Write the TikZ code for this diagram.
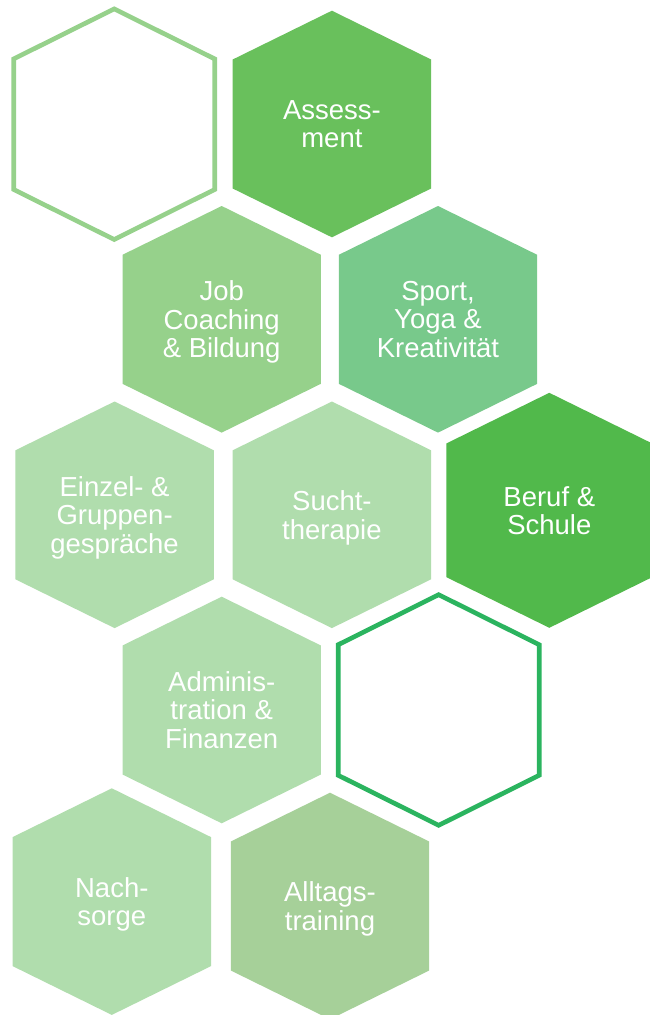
\documentclass[tikz,border=0pt]{standalone}
\usepackage{fontspec}
\setmainfont{Liberation Sans}
\definecolor{cLight}{HTML}{96D18B}
\definecolor{cAssess}{HTML}{69C05C}
\definecolor{cSport}{HTML}{78C98B}
\definecolor{cPale}{HTML}{B0DDAD}
\definecolor{cBeruf}{HTML}{51B94B}
\definecolor{cRing}{HTML}{2BB45F}
\definecolor{cAlltag}{HTML}{A6D099}
\tikzset{
  hexfill/.pic={\fill[#1] (0,-113.3) -- (99.2,-64.5) -- (99.2,64.5) -- (0,113.3) -- (-99.2,64.5) -- (-99.2,-64.5) -- cycle;},
  hexring/.pic={\draw[#1, line width=4.6pt, line join=miter] (0,-115.3) -- (100.5,-65.3) -- (100.5,65.3) -- (0,115.3) -- (-100.5,65.3) -- (-100.5,-65.3) -- cycle;},
  lbl/.style={text=white, font=\fontsize{27.5}{28.5}\selectfont, align=center, inner sep=0pt, text depth=0pt}
}
\begin{document}
\begin{tikzpicture}[x=1pt,y=-1pt]
\useasboundingbox (0,0) rectangle (650,1015);
\fill[white] (0,0) rectangle (650,1015);
% hexagons
\pic at (114.2,124.2) {hexring=cLight};
\pic at (331.9,124) {hexfill=cAssess};
\pic at (221.7,319.3) {hexfill=cLight};
\pic at (438,319.3) {hexfill=cSport};
\pic at (114.6,514.8) {hexfill=cPale};
\pic at (331.9,514.8) {hexfill=cPale};
\pic[scale=1.037] at (549.3,510.3) {hexfill=cBeruf};
\pic at (221.7,710) {hexfill=cPale};
\pic at (438.7,710) {hexring=cRing};
\pic at (111.8,901.6) {hexfill=cPale};
\pic at (330,906) {hexfill=cAlltag};
% labels
\node[lbl] (assess) at (331.9,124) {Assess-\\ment};
\node[lbl] (job) at (221.7,319.3) {Job\\Coaching\\\& Bildung};
\node[lbl] (sport) at (438,319.3) {Sport,\\Yoga \&\\Kreativität};
\node[lbl] (einzel) at (114.6,514.8) {Einzel- \&\\Gruppen-\\gespräche};
\node[lbl] (sucht) at (331.9,514.8) {Sucht-\\therapie};
\node[lbl] (beruf) at (549.3,510.3) {Beruf \&\\Schule};
\node[lbl] (admin) at (221.7,710) {Adminis-\\tration \&\\Finanzen};
\node[lbl] (nach) at (111.8,901.6) {Nach-\\sorge};
\node[lbl] (alltag) at (330,906) {Alltags-\\training};
\end{tikzpicture}
\end{document}
